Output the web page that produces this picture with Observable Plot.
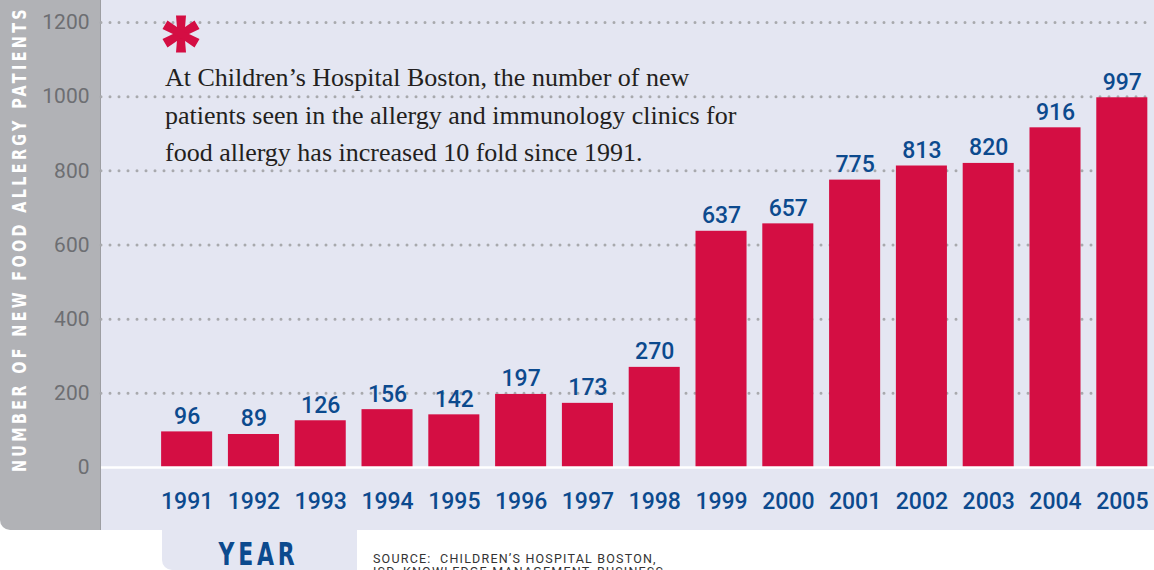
<!DOCTYPE html>
<html>
<head>
<meta charset="utf-8">
<script src="https://cdn.jsdelivr.net/npm/d3@7"></script>
<script src="https://cdn.jsdelivr.net/npm/@observablehq/plot@0.6"></script>
<style>
  html, body { margin: 0; padding: 0; background: #ffffff; }
  #wrap { position: relative; width: 1154px; height: 570px; overflow: hidden; background: #ffffff; }
  #gray { position: absolute; left: 0; top: 0; width: 100px; height: 530px; background: #b1b2b6; border-right: 1px solid #9d9ea2; border-bottom-left-radius: 10px; }
  #lav { position: absolute; left: 101px; top: 0; width: 1053px; height: 530px; background: #e4e6f2; }
  #tab { position: absolute; left: 162px; top: 530px; width: 195px; height: 40px; background: #e4e6f2; border-bottom-left-radius: 10px; }
  #chart { position: absolute; left: 0; top: 0; }
  #ylabel { position: absolute; white-space: nowrap; color: #ffffff; font-family: "DejaVu Sans", sans-serif; font-stretch: condensed;
            font-weight: bold; font-size: 19px; line-height: 24px; letter-spacing: 4px; transform-origin: center center; }
  #note { position: absolute; left: 165px; top: 59px; font-family: "Liberation Serif", "DejaVu Serif", serif; font-size: 26px;
          line-height: 37.5px; color: #231f20; white-space: nowrap; }
  #star { position: absolute; left: 162px; top: 14px; }
  #year { position: absolute; white-space: nowrap; color: #0c4a8e; font-family: "DejaVu Sans", sans-serif; font-stretch: condensed;
          font-weight: bold; font-size: 32px; line-height: 26px; letter-spacing: 5px; transform-origin: center center; }
  #source { position: absolute; left: 373px; top: 552px; font-family: Roboto, sans-serif; font-size: 12.5px; line-height: 13px;
            letter-spacing: 1.2px; color: #333333; white-space: nowrap; }
</style>
</head>
<body>
<div id="wrap">
  <div id="lav"></div>
  <div id="gray"></div>
  <div id="tab"></div>
  <div id="ylabel">NUMBER OF NEW FOOD ALLERGY PATIENTS</div>
  <div id="chart"></div>
  <svg id="star" width="38" height="40" viewBox="-19 -20 38 40">
    <g fill="#d40e43">
      <polygon points="-3.5,0 -5,-18.5 5,-18.5 3.5,0 5,18.5 -5,18.5" />
      <polygon points="-3.5,0 -5,-18.5 5,-18.5 3.5,0 5,18.5 -5,18.5" transform="rotate(60)" />
      <polygon points="-3.5,0 -5,-18.5 5,-18.5 3.5,0 5,18.5 -5,18.5" transform="rotate(120)" />
    </g>
  </svg>
  <div id="note">At Children’s Hospital Boston, the number of new<br>patients seen in the allergy and immunology clinics for<br>food allergy has increased 10 fold since 1991.</div>
  <div id="year">YEAR</div>
  <div id="source">SOURCE:&nbsp; CHILDREN’S HOSPITAL BOSTON,<br>ISD, KNOWLEDGE MANAGEMENT, BUSINESS</div>
</div>
<script>
const years = ["1991","1992","1993","1994","1995","1996","1997","1998","1999","2000","2001","2002","2003","2004","2005"];
const patients = [96, 89, 126, 156, 142, 197, 173, 270, 637, 657, 775, 813, 820, 916, 997];
const yTicks = [0, 200, 400, 600, 800, 1000, 1200];
const gridTicks = [200, 400, 600, 800, 1000, 1200];

const data = years.map((y, i) => ({year: y, value: patients[i]}));

const chart = Plot.plot({
  width: 1154,
  height: 530,
  marginLeft: 101,
  marginRight: 0,
  marginTop: 22,
  marginBottom: 63,
  style: {background: "transparent", overflow: "visible"},
  x: {domain: years, paddingInner: 0.236, paddingOuter: 0.5, align: 0.9, round: false},
  y: {domain: [0, 1200]},
  marks: [
    Plot.ruleY(gridTicks, {stroke: "#a8a9ad", strokeWidth: 3, strokeDasharray: "0,9", strokeLinecap: "round"}),
    Plot.barY(data, {x: "year", y: "value", fill: "#d40e43"}),
    Plot.ruleY([0], {stroke: "#ffffff", strokeWidth: 2.5}),
    Plot.text(data, {x: "year", y: "value", text: d => String(d.value), lineAnchor: "bottom", dy: -8,
      fill: "#0c4a8e", fontSize: 23, fontWeight: 500, fontFamily: "Roboto, sans-serif", letterSpacing: "-0.5px"}),
    Plot.axisY({ticks: yTicks, tickFormat: d => String(d), tickSize: 0, tickPadding: 12, fontSize: 21, fill: "#6d6e72", label: null, fontFamily: "Roboto, sans-serif"}),
    Plot.axisX({tickSize: 0, tickPadding: 25, fontSize: 23, fill: "#0c4a8e", fontWeight: 500, label: null, fontFamily: "Roboto, sans-serif", letterSpacing: "-0.5px"})
  ]
});
document.getElementById("chart").appendChild(chart);

// fit a text block to a given length around a centre point
function fit(el, cx, cy, length, rotate) {
  const w = el.offsetWidth, h = el.offsetHeight;
  el.style.left = (cx - w / 2) + "px";
  el.style.top = (cy - h / 2) + "px";
  const s = length / w;
  el.style.transform = (rotate ? "rotate(-90deg) " : "") + "scaleX(" + s + ")";
}
fit(document.getElementById("ylabel"), 18, 239, 466, true);
fit(document.getElementById("year"), 258, 554, 80, false);
</script>
</body>
</html>
